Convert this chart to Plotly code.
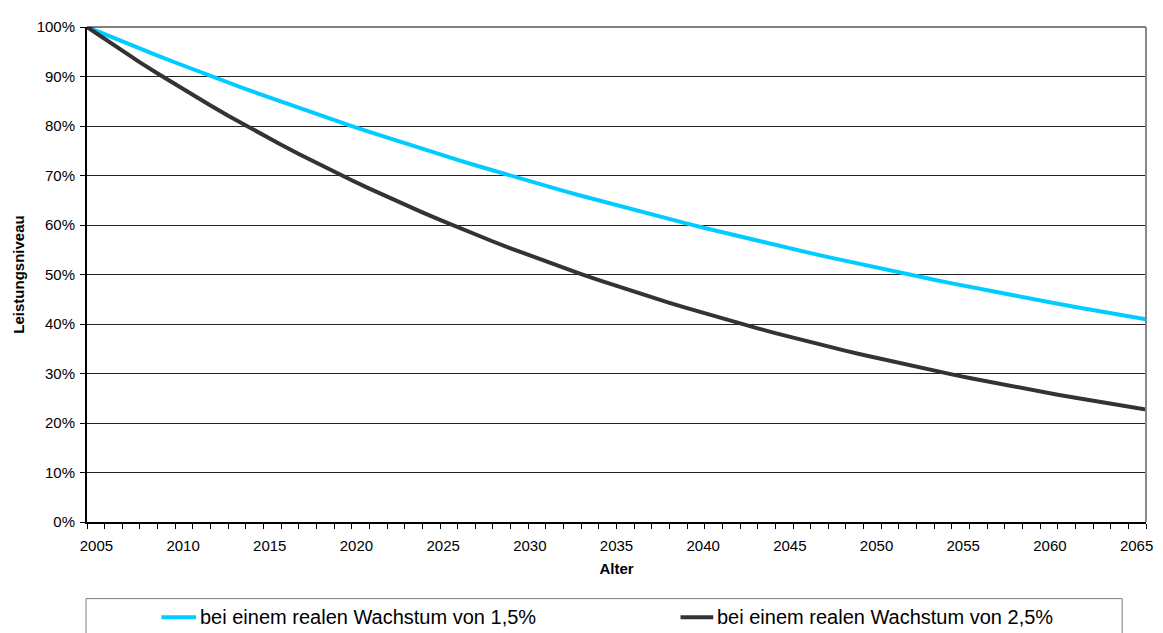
import plotly.graph_objects as go

years = list(range(2005, 2066))

niveau_15 = [1.000, 0.9852, 0.9707, 0.9563, 0.9422, 0.9283, 0.9145, 0.9010, 0.8877, 0.8746,
             0.8617, 0.8489, 0.8364, 0.8240, 0.8118, 0.7999, 0.7880, 0.7764, 0.7649, 0.7536,
             0.7425, 0.7315, 0.7207, 0.7100, 0.6995, 0.6892, 0.6790, 0.6690, 0.6591, 0.6494,
             0.6398, 0.6303, 0.6210, 0.6118, 0.6028, 0.5939, 0.5851, 0.5764, 0.5679, 0.5595,
             0.5513, 0.5431, 0.5351, 0.5272, 0.5194, 0.5117, 0.5042, 0.4967, 0.4894, 0.4821,
             0.4750, 0.4680, 0.4611, 0.4543, 0.4475, 0.4409, 0.4344, 0.4280, 0.4217, 0.4154,
             0.4093]

niveau_25 = [1.000, 0.9756, 0.9518, 0.9286, 0.9060, 0.8839, 0.8623, 0.8413, 0.8207, 0.8007,
             0.7812, 0.7621, 0.7436, 0.7254, 0.7077, 0.6905, 0.6736, 0.6572, 0.6412, 0.6255,
             0.6103, 0.5954, 0.5809, 0.5667, 0.5529, 0.5394, 0.5262, 0.5134, 0.5009, 0.4887,
             0.4767, 0.4651, 0.4538, 0.4427, 0.4319, 0.4214, 0.4111, 0.4011, 0.3913, 0.3817,
             0.3724, 0.3633, 0.3545, 0.3458, 0.3374, 0.3292, 0.3211, 0.3133, 0.3057, 0.2982,
             0.2909, 0.2838, 0.2769, 0.2702, 0.2636, 0.2572, 0.2509, 0.2448, 0.2388, 0.2330,
             0.2273]

x_tick_labels = ["2005", "2010", "2015", "2020", "2025", "2030", "2035",
                 "2040", "2045", "2050", "2055", "2060", "2065"]

series_names = ["bei einem realen Wachstum von 1,5%", "bei einem realen Wachstum von 2,5%"]
series_colors = ["#00CCFF", "#333333"]

FONT = "Liberation Sans, Arial, sans-serif"

# page body has an 8px margin: figure is sized/offset so the plot lands where the reference has it
OFF = 8
WIN_W, WIN_H = 1163, 633
# plot area in window pixels
PX0, PX1, PY0, PY1 = 85, 1152, 18, 522
PW, PH = PX1 - PX0, PY1 - PY0
W, H = WIN_W - OFF, WIN_H - OFF


def px(x):
    return (x - PX0) / PW


def py(y):
    return (PY1 - y) / PH


# Excel-style label placement: labels are spread slightly inside the axis ends
mid = 2035
squeeze = 0.9822
tick_vals = [mid + (int(t) - mid) * squeeze for t in x_tick_labels]

fig = go.Figure()
for vals, name, col in zip([niveau_15, niveau_25], series_names, series_colors):
    fig.add_trace(go.Scatter(x=years, y=vals, mode="lines", name=name,
                             line=dict(color=col, width=4)))

legend_y = 619
legend_items = [(160, 195, 197), (683, 716, 718)]

shapes = [
    dict(type="line", xref="paper", yref="paper", x0=0, x1=1, y0=1, y1=1,
         line=dict(color="#000000", width=1)),
    dict(type="line", xref="paper", yref="paper", x0=1, x1=1, y0=0, y1=1,
         line=dict(color="#888888", width=2)),
    dict(type="rect", xref="paper", yref="paper", x0=px(84), x1=px(1128), y0=py(600), y1=py(700),
         line=dict(color="#808080", width=1), fillcolor="rgba(0,0,0,0)"),
]
annotations = []
for (s0, s1, tx), name, col in zip(legend_items, series_names, series_colors):
    shapes.append(dict(type="line", xref="paper", yref="paper", x0=px(s0), x1=px(s1),
                       y0=py(legend_y), y1=py(legend_y), line=dict(color=col, width=4)))
    annotations.append(dict(xref="paper", yref="paper", x=px(tx), y=py(legend_y),
                            xanchor="left", yanchor="middle", showarrow=False, text=name,
                            font=dict(family=FONT, size=20, color="#000000")))

fig.update_layout(
    width=W, height=H,
    margin=dict(l=PX0 - OFF, r=WIN_W - PX1, t=PY0 - OFF, b=WIN_H - PY1),
    paper_bgcolor="white", plot_bgcolor="white",
    font=dict(family=FONT, size=15, color="#000000"),
    showlegend=False,
    xaxis=dict(range=[2005, 2065], tickmode="array", tickvals=tick_vals, ticktext=x_tick_labels,
               showgrid=False, zeroline=False,
               showline=True, linecolor="#000000", linewidth=2,
               ticks="",
               minor=dict(tick0=2005, dtick=1, ticks="outside", ticklen=5, tickcolor="#000000",
                          tickwidth=1, showgrid=False),
               ticklabelstandoff=9, ticklabeloverflow="allow",
               tickfont=dict(size=15),
               title=dict(text="<b>Alter</b>", font=dict(size=15), standoff=10)),
    yaxis=dict(range=[0, 1], dtick=0.1, tickformat=".0%", showgrid=True,
               gridcolor="#222222", gridwidth=1, zeroline=False,
               showline=True, linecolor="#000000", linewidth=2,
               ticks="outside", ticklen=5, tickcolor="#000000", tickwidth=1,
               ticklabelstandoff=2,
               tickfont=dict(size=15),
               title=dict(text="<b>Leistungsniveau</b>", font=dict(size=15), standoff=8)),
    shapes=shapes,
    annotations=annotations,
)

fig.write_html("out.html")
